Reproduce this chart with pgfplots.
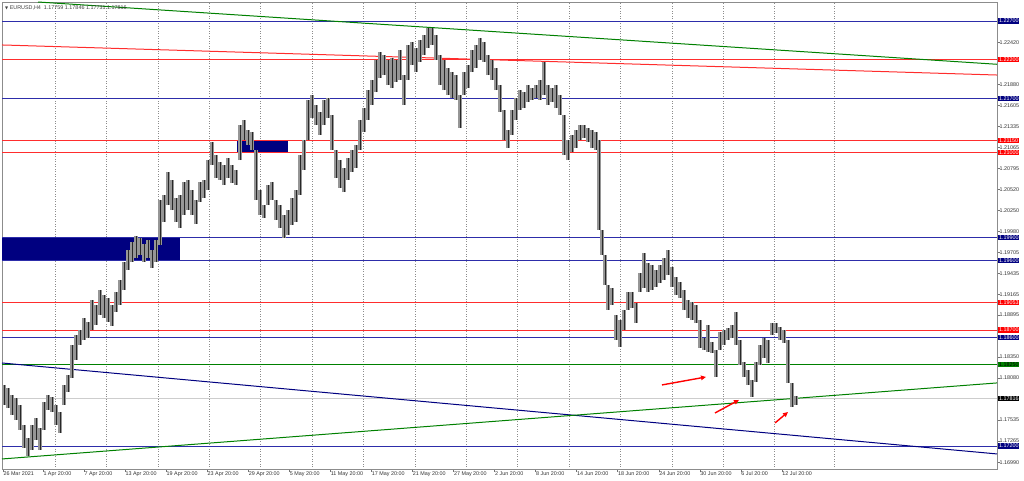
\documentclass[border=0pt]{standalone}
\usepackage{fontspec}
\setmainfont{Liberation Sans}
\newfontfamily\dejavu{DejaVu Sans}
\usepackage{pgfplots}
\pgfplotsset{compat=1.18}
\usepackage{pgfplotstable}
\usetikzlibrary{arrows.meta}

\definecolor{lvlblue}{RGB}{45,45,170}
\definecolor{boxnavy}{RGB}{0,0,128}
\definecolor{lvlred}{RGB}{255,45,45}
\definecolor{boxred}{RGB}{255,0,0}
\definecolor{lvlgreen}{RGB}{0,128,0}
\definecolor{gridgray}{RGB}{140,140,140}
\definecolor{candlebody}{RGB}{150,150,150}
\definecolor{candlewick}{RGB}{40,40,40}
\definecolor{bidgray}{RGB}{205,205,205}

\pgfplotstableread{
x hi lo
4 1.17990 1.17731
8 1.17951 1.17692
12 1.17860 1.17602
16 1.17822 1.17537
20 1.17731 1.17407
24 1.17472 1.17174
28 1.17304 1.17071
32 1.17472 1.17149
36 1.17563 1.17278
40 1.17433 1.17149
44 1.17770 1.17407
48 1.17860 1.17666
52 1.17834 1.17640
56 1.17731 1.17472
60 1.17640 1.17369
64 1.17990 1.17731
68 1.18119 1.17899
72 1.18507 1.18080
76 1.18637 1.18313
80 1.18702 1.18507
84 1.18857 1.18572
88 1.18805 1.18598
92 1.19090 1.18702
96 1.19025 1.18766
100 1.19219 1.18896
104 1.19154 1.18857
108 1.19116 1.18805
112 1.19025 1.18753
116 1.19193 1.18934
120 1.19349 1.19025
124 1.19582 1.19219
128 1.19737 1.19478
132 1.19840 1.19582
136 1.19918 1.19633
140 1.19892 1.19672
144 1.19814 1.19582
148 1.19866 1.19633
152 1.19737 1.19504
156 1.19866 1.19582
160 1.20384 1.19802
164 1.20449 1.20099
168 1.20746 1.20319
172 1.20643 1.20254
176 1.20410 1.20099
180 1.20449 1.20022
184 1.20617 1.20190
188 1.20643 1.20254
192 1.20513 1.20190
196 1.20384 1.20073
200 1.20617 1.20358
204 1.20643 1.20410
208 1.20901 1.20513
212 1.21134 1.20837
216 1.20966 1.20669
220 1.20876 1.20643
224 1.20837 1.20578
228 1.20927 1.20669
232 1.20837 1.20604
236 1.20772 1.20578
240 1.21354 1.20901
244 1.21419 1.21160
248 1.21290 1.21096
252 1.21264 1.21031
256 1.21031 1.20384
260 1.20513 1.20190
264 1.20319 1.20151
268 1.20578 1.20319
272 1.20617 1.20384
276 1.20384 1.20125
280 1.20319 1.20022
284 1.20190 1.19892
288 1.20254 1.19931
292 1.20410 1.20060
296 1.20513 1.20099
300 1.20966 1.20449
304 1.21160 1.20772
308 1.21678 1.21160
312 1.21743 1.21445
316 1.21613 1.21354
320 1.21523 1.21225
324 1.21678 1.21354
328 1.21704 1.21445
332 1.21484 1.21031
336 1.21031 1.20669
340 1.20901 1.20539
344 1.20798 1.20487
348 1.20927 1.20643
352 1.21031 1.20746
356 1.21096 1.20798
360 1.21419 1.21031
364 1.21574 1.21264
368 1.21807 1.21419
372 1.21937 1.21613
376 1.22196 1.21781
380 1.22299 1.21963
384 1.22260 1.22001
388 1.22196 1.21872
392 1.22221 1.21833
396 1.22196 1.21911
400 1.22325 1.21937
404 1.22001 1.21613
408 1.22390 1.21937
412 1.22429 1.22131
416 1.22351 1.22040
420 1.22454 1.22170
424 1.22519 1.22260
428 1.22610 1.22351
432 1.22610 1.22390
436 1.22519 1.22196
440 1.22260 1.21872
444 1.22196 1.21807
448 1.22092 1.21743
452 1.22040 1.21704
456 1.22001 1.21678
460 1.21743 1.21316
464 1.22040 1.21743
468 1.22131 1.21833
472 1.22325 1.22040
476 1.22390 1.22092
480 1.22480 1.22196
484 1.22429 1.22170
488 1.22260 1.22001
492 1.22196 1.21937
496 1.22092 1.21807
500 1.21872 1.21523
504 1.21549 1.21160
508 1.21290 1.21057
512 1.21549 1.21225
516 1.21704 1.21419
520 1.21807 1.21549
524 1.21781 1.21574
528 1.21872 1.21652
532 1.21833 1.21678
536 1.21872 1.21704
540 1.21937 1.21678
544 1.22170 1.21743
548 1.21872 1.21613
552 1.21833 1.21652
556 1.21872 1.21574
560 1.21743 1.21484
564 1.21484 1.20966
568 1.21160 1.20901
572 1.21225 1.21005
576 1.21290 1.21057
580 1.21354 1.21160
584 1.21354 1.21186
588 1.21316 1.21134
592 1.21290 1.21057
596 1.21264 1.21031
599 1.21160 1.19996
602 1.19996 1.19672
605 1.19672 1.19284
608 1.19284 1.18960
612 1.19245 1.19025
616 1.18896 1.18572
620 1.18831 1.18482
624 1.18960 1.18702
628 1.19193 1.18960
632 1.19193 1.18986
636 1.19051 1.18792
640 1.19439 1.19193
644 1.19698 1.19245
648 1.19569 1.19193
652 1.19543 1.19219
656 1.19478 1.19258
660 1.19543 1.19310
664 1.19633 1.19349
668 1.19737 1.19413
672 1.19517 1.19258
676 1.19387 1.19154
680 1.19323 1.19116
684 1.19219 1.18960
688 1.19090 1.18857
692 1.19064 1.18831
696 1.19025 1.18792
700 1.18831 1.18469
704 1.18598 1.18443
708 1.18766 1.18417
712 1.18546 1.18404
716 1.18443 1.18093
720 1.18676 1.18443
724 1.18702 1.18507
728 1.18727 1.18572
732 1.18766 1.18598
736 1.18934 1.18507
740 1.18572 1.18249
744 1.18287 1.18093
748 1.18184 1.17990
752 1.18054 1.17834
756 1.18287 1.18029
760 1.18507 1.18249
764 1.18598 1.18339
768 1.18572 1.18274
772 1.18792 1.18637
776 1.18792 1.18663
780 1.18740 1.18572
784 1.18702 1.18533
788 1.18572 1.18016
792 1.18016 1.17705
796 1.17846 1.17731
}\candles

\tikzset{lvlbox/.style={fill=#1, text=white, anchor=west, xshift=1pt,
  inner sep=0.7pt, font=\fontsize{5.4}{5.4}\selectfont}}

\begin{document}
\begin{tikzpicture}
\begin{axis}[
  scale only axis, width=995pt, height=467pt,
  xmin=2, xmax=997, ymin=1.16902, ymax=1.22946,
  clip=false,
  axis line style={draw=black!45},
  scaled ticks=false,
  xtick={3,43,84.05,125.1,166.15,207.2,248.25,289.3,330.35,371.4,412.45,453.5,494.55,535.6,576.65,617.7,658.75,699.8,740.85,781.9},
  xticklabels={26 Mar 2021,1 Apr 20:00,7 Apr 20:00,13 Apr 20:00,19 Apr 20:00,23 Apr 20:00,29 Apr 20:00,5 May 20:00,11 May 20:00,17 May 20:00,21 May 20:00,27 May 20:00,2 Jun 20:00,8 Jun 20:00,14 Jun 20:00,18 Jun 20:00,24 Jun 20:00,30 Jun 20:00,6 Jul 20:00,12 Jul 20:00},
  xtick pos=left, ytick pos=right,
  tick align=outside, major tick length=2.5pt,
  tick style={black!55, line width=0.5pt},
  xticklabel style={anchor=north west, xshift=-0.5pt, yshift=1pt, inner sep=0.8pt,
    font=\fontsize{5.4}{5.4}\selectfont, text=black!80},
  ytick={1.16990,1.17265,1.17535,1.18080,1.18350,1.18895,1.19165,1.19435,1.19705,1.19980,1.20250,1.20520,1.20795,1.21065,1.21335,1.21605,1.21880,1.22420},
  yticklabels={1.16990,1.17265,1.17535,1.18080,1.18350,1.18895,1.19165,1.19435,1.19705,1.19980,1.20250,1.20520,1.20795,1.21065,1.21335,1.21605,1.21880,1.22420},
  yticklabel pos=right,
  yticklabel style={anchor=west, xshift=-1pt, inner sep=0.8pt,
    font=\fontsize{5.4}{5.4}\selectfont, text=black!80},
]
\coordinate (sw) at (rel axis cs:0,0);

% dotted vertical grid
\addplot[gridgray, dotted, line width=0.5pt, unbounded coords=jump] coordinates {
(55,1.16902)(55,1.22946)(55,nan)
(106.4,1.16902)(106.4,1.22946)(106.4,nan)
(157.8,1.16902)(157.8,1.22946)(157.8,nan)
(209.2,1.16902)(209.2,1.22946)(209.2,nan)
(260.6,1.16902)(260.6,1.22946)(260.6,nan)
(312,1.16902)(312,1.22946)(312,nan)
(363.4,1.16902)(363.4,1.22946)(363.4,nan)
(414.8,1.16902)(414.8,1.22946)(414.8,nan)
(466.2,1.16902)(466.2,1.22946)(466.2,nan)
(517.6,1.16902)(517.6,1.22946)(517.6,nan)
(569,1.16902)(569,1.22946)(569,nan)
(620.4,1.16902)(620.4,1.22946)(620.4,nan)
(671.8,1.16902)(671.8,1.22946)(671.8,nan)
(723.2,1.16902)(723.2,1.22946)(723.2,nan)
(774.6,1.16902)(774.6,1.22946)(774.6,nan)
(834,1.16902)(834,1.22946)
};

% rectangles
\addplot[fill=boxnavy, draw=none] coordinates {(2,1.19600)(180,1.19600)(180,1.19900)(2,1.19900)} -- cycle;
\addplot[fill=boxnavy, draw=none] coordinates {(237,1.21000)(288,1.21000)(288,1.21150)(237,1.21150)} -- cycle;

% horizontal levels
\addplot[bidgray, line width=0.6pt] coordinates {(2,1.17816)(997,1.17816)} node[pos=1, lvlbox=black] {1.17816};
\addplot[lvlblue, line width=0.7pt] coordinates {(2,1.22700)(997,1.22700)} node[pos=1, lvlbox=boxnavy] {1.22700};
\addplot[lvlred, line width=0.7pt] coordinates {(2,1.22200)(997,1.22200)} node[pos=1, lvlbox=boxred] {1.22200};
\addplot[lvlblue, line width=0.7pt] coordinates {(2,1.21700)(997,1.21700)} node[pos=1, lvlbox=boxnavy] {1.21700};
\addplot[lvlred, line width=0.7pt] coordinates {(2,1.21150)(997,1.21150)} node[pos=1, lvlbox=boxred] {1.21150};
\addplot[lvlred, line width=0.7pt] coordinates {(2,1.21000)(997,1.21000)} node[pos=1, lvlbox=boxred] {1.21000};
\addplot[lvlblue, line width=0.7pt] coordinates {(2,1.19900)(997,1.19900)} node[pos=1, lvlbox=boxnavy] {1.19900};
\addplot[lvlblue, line width=0.7pt] coordinates {(2,1.19600)(997,1.19600)} node[pos=1, lvlbox=boxnavy] {1.19600};
\addplot[lvlred, line width=0.7pt] coordinates {(2,1.19053)(997,1.19053)} node[pos=1, lvlbox=boxred] {1.19053};
\addplot[lvlred, line width=0.7pt] coordinates {(2,1.18700)(997,1.18700)} node[pos=1, lvlbox=boxred] {1.18700};
\addplot[lvlblue, line width=0.7pt] coordinates {(2,1.18600)(997,1.18600)} node[pos=1, lvlbox=boxnavy] {1.18600};
\addplot[lvlgreen, line width=0.7pt] coordinates {(2,1.18250)(997,1.18250)} node[pos=1, lvlbox=lvlgreen, text=black] {1.18250};
\addplot[lvlblue, line width=0.7pt] coordinates {(2,1.17200)(997,1.17200)} node[pos=1, lvlbox=boxnavy] {1.17200};

% trend lines
\addplot[lvlgreen, line width=1pt] coordinates {(38,1.22946)(997,1.22140)};
\addplot[lvlred, line width=1pt] coordinates {(2,1.22390)(997,1.22001)};
\addplot[boxnavy, line width=1pt] coordinates {(2,1.18274)(997,1.17097)};
\addplot[lvlgreen, line width=1pt] coordinates {(2,1.17032)(997,1.18016)};

% candles: gray body band and dark wick, both spanning the bar's low to high
\addplot[draw=candlebody, line width=3.1pt, mark=none,
  quiver={u=0, v=\thisrow{hi}-\thisrow{lo}}]
  table[x=x, y=lo] {\candles};
\addplot[draw=candlewick, line width=0.9pt, mark=none,
  quiver={u=0, v=\thisrow{hi}-\thisrow{lo}}]
  table[x=x, y=lo] {\candles};

% arrows
\addplot[boxred, line width=1.4pt, -{Triangle[length=5pt,width=4.5pt]}] coordinates {(662,1.17990)(706,1.18093)};
\addplot[boxred, line width=1.4pt, -{Triangle[length=5pt,width=4.5pt]}] coordinates {(715,1.17627)(739,1.17796)};
\addplot[boxred, line width=1.4pt, -{Triangle[length=5pt,width=4.5pt]}] coordinates {(775,1.17498)(788,1.17640)};

\node[anchor=north west, inner sep=0pt, text=black!75, font=\fontsize{5.4}{5.4}\selectfont]
  at (rel axis cs:0,1) [xshift=3pt, yshift=-3.5pt] {{\dejavu\fontsize{4}{4}\selectfont ▼}\ EURUSD,H4\ \ 1.17759 1.17846 1.17731 1.17816};
\end{axis}
\pgfresetboundingbox
\path[use as bounding box] ([shift={(-2pt,-11pt)}]sw) rectangle ++(1024pt,480pt);
\end{tikzpicture}
\end{document}
